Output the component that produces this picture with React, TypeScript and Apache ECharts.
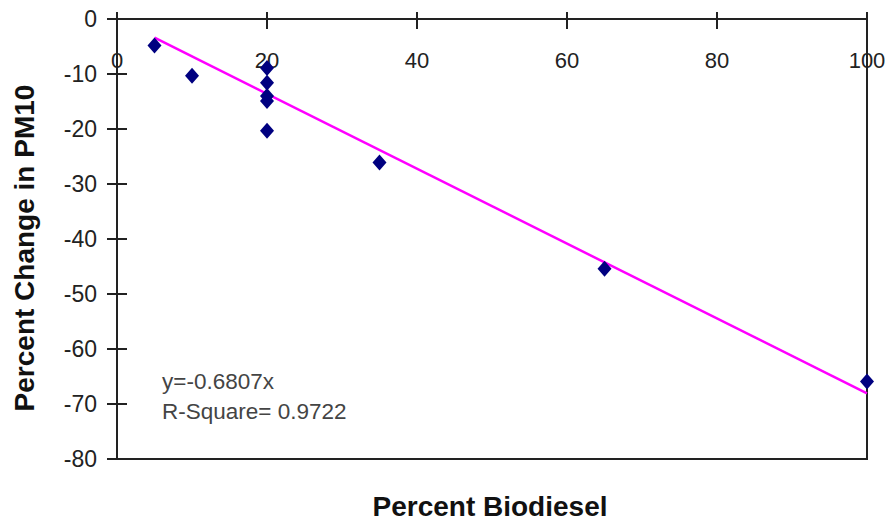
import React, { useEffect, useRef } from "react";
import * as echarts from "echarts";

const biodieselPct = [5, 10, 20, 20, 20, 20, 20, 35, 65, 100];
const pm10Change = [-4.8, -10.3, -8.9, -11.6, -14, -14.9, -20.3, -26.1, -45.4, -65.9];
const trendSlope = -0.6807;
const trendRange = [5, 100];
const xTicks = [0, 20, 40, 60, 80, 100];
const yTicks = [-80, -70, -60, -50, -40, -30, -20, -10, 0];
const equationText = "y=-0.6807x";
const rSquareText = "R-Square= 0.9722";
const xTitle = "Percent Biodiesel";
const yTitle = "Percent Change in PM10";

export default function App() {
  const ref = useRef<HTMLDivElement>(null);
  useEffect(() => {
    if (!ref.current) return;
    const chart = echarts.init(ref.current, null, { renderer: "svg" });
    const points = biodieselPct.map((x, i) => [x, pm10Change[i]]);
    const trend = trendRange.map((x) => [x, trendSlope * x]);
    const font = "Liberation Sans, Arial, sans-serif";
    const axisColor = "#222";
    chart.setOption({
      animation: false,
      backgroundColor: "#fff",
      grid: {
        left: 117,
        top: 19,
        right: 26,
        bottom: 62,
        show: true,
        borderColor: axisColor,
        borderWidth: 2,
      },
      xAxis: [
        {
          type: "value",
          position: "top",
          min: xTicks[0],
          max: xTicks[xTicks.length - 1],
          interval: 20,
          axisLine: { show: true, onZero: false, lineStyle: { color: axisColor, width: 2 } },
          axisTick: { show: true, inside: false, length: 7, lineStyle: { color: axisColor, width: 2 } },
          axisLabel: {
            inside: true,
            margin: 30,
            fontSize: 22,
            color: "#222",
            fontFamily: font,
          },
          splitLine: { show: false },
        },
        {
          type: "value",
          position: "top",
          min: xTicks[0],
          max: xTicks[xTicks.length - 1],
          interval: 20,
          axisLine: { show: false },
          axisTick: { show: true, inside: true, length: 10, lineStyle: { color: axisColor, width: 2 } },
          axisLabel: { show: false },
          splitLine: { show: false },
        },
      ],
      yAxis: [
        {
          type: "value",
          position: "left",
          min: yTicks[0],
          max: yTicks[yTicks.length - 1],
          interval: 10,
          axisLine: { show: true, onZero: false, lineStyle: { color: axisColor, width: 2 } },
          axisTick: { show: true, inside: false, length: 10, lineStyle: { color: axisColor, width: 2 } },
          axisLabel: { margin: 20, fontSize: 23, color: "#222", fontFamily: font },
          splitLine: { show: false },
        },
        {
          type: "value",
          position: "left",
          min: yTicks[0],
          max: yTicks[yTicks.length - 1],
          interval: 10,
          axisLine: { show: false },
          axisTick: { show: true, inside: true, length: 10, lineStyle: { color: axisColor, width: 2 } },
          axisLabel: { show: false },
          splitLine: { show: false },
        },
      ],
      series: [
        {
          type: "line",
          data: trend,
          showSymbol: false,
          symbol: "none",
          lineStyle: { color: "#ff00ff", width: 2.5 },
          z: 2,
        },
        {
          type: "scatter",
          data: points,
          symbol: "diamond",
          symbolSize: [14, 16],
          itemStyle: { color: "#000080", opacity: 1 },
          z: 3,
        },
      ],
      graphic: [
        {
          type: "text",
          left: 162,
          top: 370,
          style: { text: equationText, fontSize: 22.5, fill: "#444", fontFamily: font },
        },
        {
          type: "text",
          left: 162,
          top: 400,
          style: { text: rSquareText, fontSize: 22.5, fill: "#444", fontFamily: font },
        },
        {
          type: "text",
          x: 490,
          y: 506,
          style: {
            text: xTitle,
            fontSize: 28,
            fontWeight: "bold",
            fill: "#111",
            fontFamily: font,
            align: "center",
            verticalAlign: "middle",
          },
        },
        {
          type: "text",
          x: 24,
          y: 248,
          rotation: Math.PI / 2,
          style: {
            text: yTitle,
            fontSize: 28,
            fontWeight: "bold",
            fill: "#111",
            fontFamily: font,
            align: "center",
            verticalAlign: "middle",
          },
        },
      ],
    });
    return () => chart.dispose();
  }, []);
  return (
    <div
      ref={ref}
      style={{ position: "fixed", left: 0, top: 0, width: 893, height: 521, background: "#fff" }}
    />
  );
}
